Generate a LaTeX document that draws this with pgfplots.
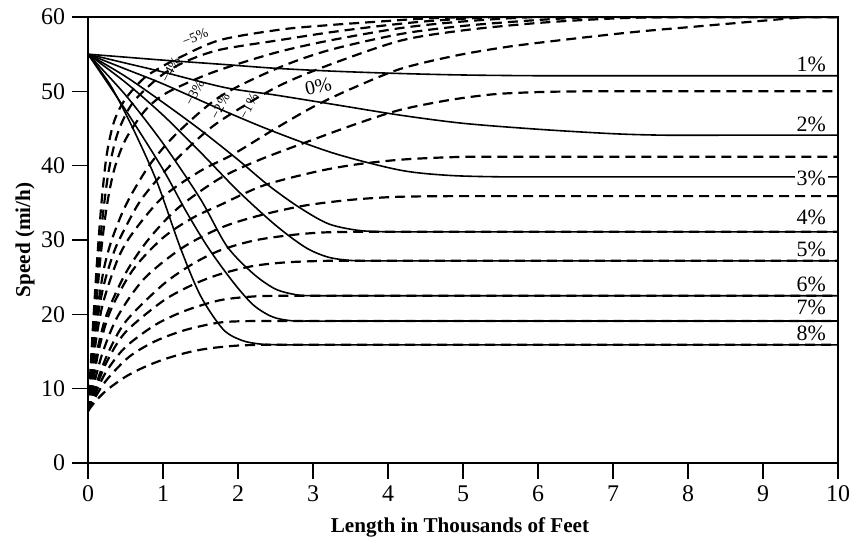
\documentclass[border=0pt]{standalone}
\usepackage{fontspec}
\setmainfont{Liberation Serif}
\usepackage{pgfplots}
\pgfplotsset{compat=1.18}

\pgfplotsset{
  accel/.style={black, line width=1.1pt, dash pattern=on 5bp off 3bp, smooth, no marks},
  decel/.style={black, line width=0.8pt, smooth, no marks},
}

\begin{document}
\begin{tikzpicture}
\useasboundingbox (-44bp,-39.5bp) rectangle (381bp,231.5bp);
\begin{axis}[
  at={(0,0)}, anchor=south west,
  scale only axis, width=375bp, height=223bp,
  xmin=0, xmax=10, ymin=0, ymax=60,
  xtick={0,1,...,10}, ytick={0,10,...,60},
  tick pos=left, tick align=outside, major tick length=8bp,
  tick style={black, line width=0.6pt},
  axis line style={black, line width=0.7pt},
  /pgf/number format/assume math mode=true,
  tick label style={font=\fontsize{12}{12}\selectfont},
  xlabel={Length in Thousands of Feet},
  ylabel={Speed (mi/h)},
  xlabel style={at={(axis description cs:0.496,-0.1435)}, anchor=center, font=\bfseries\fontsize{10.6}{12}\selectfont},
  ylabel style={at={(axis description cs:-0.084,0.5)}, anchor=center, font=\bfseries\fontsize{10.6}{12}\selectfont},
]
% acceleration curves (dashed), grades 8% ... -5%
\addplot[accel] coordinates {(0,7) (0.1,8.3) (0.25,9.8) (0.5,11.6) (0.75,12.9) (1,13.9) (1.3,14.8) (1.6,15.4) (2,15.8) (2.4,15.9) (2.9,15.9) (3.6,15.9) (5,15.9) (7,15.9) (10,15.9)};
\addplot[accel] coordinates {(0,7) (0.1,8.9) (0.25,11.2) (0.55,14.3) (0.9,16.4) (1.3,17.9) (1.76,18.9) (2.2,19.1) (2.7,19.1) (3.4,19.1) (4.8,19.1) (7,19.1) (10,19.1)};
\addplot[accel] coordinates {(0,7) (0.1,9.4) (0.25,12.4) (0.5,15.6) (0.9,18.6) (1.3,20.5) (1.76,21.9) (2.2,22.4) (2.6,22.5) (3.1,22.5) (3.8,22.5) (5.2,22.5) (7.5,22.5) (10,22.5)};
\addplot[accel] coordinates {(0,7) (0.1,9.9) (0.25,13.6) (0.5,17.6) (1,21.8) (1.4,24) (1.76,25.4) (2.2,26.5) (2.65,27) (3.2,27.2) (3.7,27.2) (4.5,27.2) (6,27.2) (8,27.2) (10,27.2)};
\addplot[accel] coordinates {(0,7) (0.1,10.3) (0.25,14.4) (0.5,19) (1,24) (1.4,26.8) (1.76,28.6) (2.2,29.9) (2.65,30.6) (3.1,31) (3.6,31.1) (4.1,31.1) (4.9,31.1) (6.3,31.1) (8,31.1) (10,31.1)};
\addplot[accel] coordinates {(0,7) (0.08,10.6) (0.2,15) (0.4,19.8) (0.75,24.8) (1.25,28.9) (1.76,31.6) (2.25,33.2) (2.87,34.6) (3.5,35.4) (4.1,35.8) (4.8,35.9) (5.5,35.9) (6.5,35.9) (8,35.9) (10,35.9)};
\addplot[accel] coordinates {(0,7) (0.07,11) (0.15,15.5) (0.3,20.5) (0.6,26) (1,30.3) (1.4,33) (1.76,34.7) (2.33,37.3) (3,39.1) (3.53,40.1) (4.1,40.75) (4.6,41.05) (5.1,41.2) (5.8,41.2) (7,41.2) (8.5,41.2) (10,41.2)};
\addplot[accel] coordinates {(0,7) (0.05,10.5) (0.12,15) (0.25,20) (0.5,25.5) (0.8,30) (1.2,34.3) (1.76,38.3) (2.29,40.8) (3,43.5) (3.6,45.7) (4.16,47.5) (4.8,48.8) (5.4,49.6) (6,49.9) (6.6,50) (7.4,50) (8.6,50) (10,50)};
\addplot[accel] coordinates {(0,7) (0.04,10.5) (0.1,16) (0.2,21.5) (0.4,27.5) (0.6,31) (1,35.8) (1.5,39.3) (1.93,41.5) (2.5,45) (3,47.9) (3.5,50.3) (4.16,53) (4.9,54.8) (5.6,56) (6.4,57) (7.3,58) (8.2,58.8) (9,59.5) (9.6,60) (10,60)};
\addplot[accel] coordinates {(0,7) (0.04,11) (0.1,17.5) (0.2,23.5) (0.35,28.5) (0.5,31.7) (0.7,35.3) (1,39) (1.4,43) (1.76,46) (2.5,50.5) (3.2,53.5) (4.16,56.8) (5,58.2) (6,59.2) (7,59.8) (7.8,60) (8.8,60) (10,60)};
\addplot[accel] coordinates {(0,7) (0.04,11.5) (0.1,18.5) (0.2,25.5) (0.3,29.5) (0.45,33.5) (0.6,36.5) (0.85,40.5) (1.2,44.5) (1.76,49.3) (2.5,53) (3.2,55.5) (4.16,57.7) (5,58.8) (6,59.6) (6.8,60) (7.8,60) (10,60)};
\addplot[accel] coordinates {(0,7) (0.04,12) (0.1,20) (0.17,28) (0.25,34.5) (0.35,39.5) (0.5,43.5) (0.75,47.3) (1,49.5) (1.36,51.3) (1.76,52.9) (2.5,55.2) (3.2,56.8) (4.16,58.5) (5,59.4) (6,60) (7.2,60) (10,60)};
\addplot[accel] coordinates {(0,7) (0.03,11.5) (0.08,19) (0.14,27) (0.2,33.5) (0.28,39.5) (0.4,44.5) (0.6,48.5) (0.96,52) (1.3,54) (1.76,55.6) (2.56,56.9) (3.2,57.9) (3.9,58.8) (4.6,59.5) (5.5,60) (6.6,60) (10,60)};
\addplot[accel] coordinates {(0,7) (0.03,12) (0.07,19) (0.12,27) (0.18,35) (0.25,41.5) (0.35,46) (0.5,49) (0.75,51.8) (1,53.4) (1.23,54.6) (1.76,56.9) (2.56,58.3) (3.2,58.9) (3.9,59.4) (4.5,59.8) (5.2,60) (6.2,60) (10,60)};

% deceleration curves (solid), grades 1% ... 8%
\addplot[decel] coordinates {(0,55) (0.5,54.6) (1,54.2) (1.83,53.6) (2.5,53.1) (3.3,52.7) (4.16,52.4) (5,52.2) (6,52.1) (7,52.1) (8.5,52.1) (10,52.1)};
\addplot[decel] coordinates {(0,55) (0.5,53.8) (1,52.6) (1.83,50.5) (2.5,49.5) (3.3,48.2) (4.16,46.8) (5,45.7) (6,44.9) (7,44.3) (7.7,44.1) (8.5,44.1) (10,44.1)};
\addplot[decel] coordinates {(0,55) (0.5,53) (1,51) (1.83,47.3) (2.5,44.5) (3.3,41.6) (4.16,39.4) (4.8,38.7) (5.5,38.5) (6.3,38.5) (7.5,38.5) (10,38.5)};
\addplot[decel] coordinates {(0,55) (0.5,52) (1,48.5) (1.5,44.8) (2,40.8) (2.4,37.4) (2.8,34.5) (3.2,32.2) (3.6,31.3) (4,31.1) (4.5,31.1) (5.3,31.1) (6.5,31.1) (8,31.1) (10,31.1)};
\addplot[decel] coordinates {(0,55) (0.5,51.2) (1,46.8) (1.5,41.8) (2,36.6) (2.5,32) (2.9,29) (3.2,27.7) (3.5,27.25) (3.8,27.2) (4.3,27.2) (5,27.2) (6.2,27.2) (8,27.2) (10,27.2)};
\addplot[decel] coordinates {(0,55) (0.5,49.5) (1,43) (1.5,35.5) (1.85,29.2) (2.2,25.5) (2.5,23.4) (2.8,22.6) (3.1,22.5) (3.5,22.5) (4.2,22.5) (5.3,22.5) (7,22.5) (10,22.5)};
\addplot[decel] coordinates {(0,55) (0.5,47.5) (1,39.5) (1.3,34) (1.6,29) (1.93,24.4) (2.2,21.3) (2.45,19.7) (2.7,19.15) (3,19.1) (3.4,19.1) (4.1,19.1) (5.2,19.1) (7,19.1) (10,19.1)};
\addplot[decel] coordinates {(0,55) (0.3,50.8) (0.6,45) (0.92,37.8) (1.23,29) (1.5,22.5) (1.8,18) (2.05,16.5) (2.3,16) (2.6,15.9) (3,15.9) (3.6,15.9) (4.6,15.9) (6.2,15.9) (10,15.9)};

% grade labels
\begin{scope}[every node/.style={font=\fontsize{11}{11}\selectfont, anchor=east, inner sep=1pt}]
\node at (axis cs:9.87,53.6) {1\%};
\node at (axis cs:9.87,45.5) {2\%};
\node[fill=white] at (axis cs:9.87,38.3) {3\%};
\node at (axis cs:9.87,33.0) {4\%};
\node at (axis cs:9.87,28.8) {5\%};
\node at (axis cs:9.87,24.0) {6\%};
\node at (axis cs:9.87,20.9) {7\%};
\node at (axis cs:9.87,17.5) {8\%};
\end{scope}
\begin{scope}[every node/.style={font=\fontsize{7}{7}\selectfont, inner sep=0.2pt}]
\node[rotate=22] at (axis cs:1.43,57.3) {−5\%};
\node[rotate=62] at (axis cs:1.10,52.9) {−4\%};
\node[rotate=62] at (axis cs:1.42,49.8) {−3\%};
\node[rotate=62] at (axis cs:1.76,48.0) {−2\%};
\node[rotate=62] at (axis cs:2.14,48.0) {−1\%};
\node[rotate=12, font=\fontsize{10}{10}\selectfont] at (axis cs:3.07,50.7) {0\%};
\end{scope}
\end{axis}
\end{tikzpicture}
\end{document}
